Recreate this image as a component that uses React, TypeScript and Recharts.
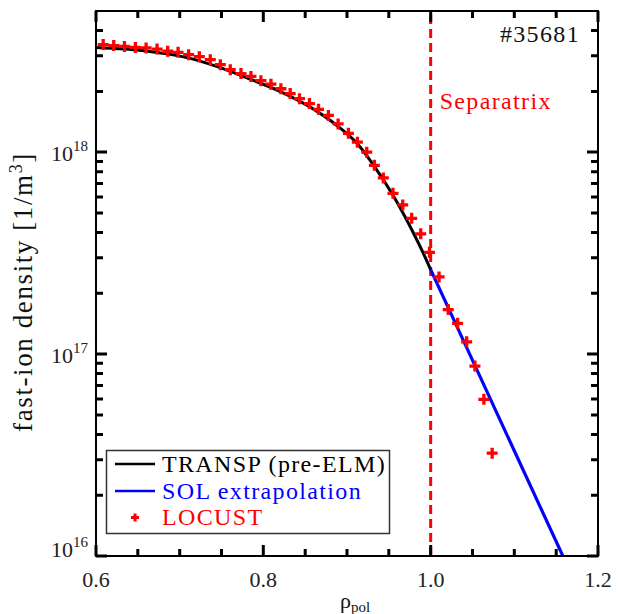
import React from 'react';
import { ComposedChart, Line, Scatter, XAxis, YAxis, ReferenceLine, ReferenceArea } from 'recharts';

const WIDTH = 618;
const HEIGHT = 614;
const FONT = '"Liberation Serif", "Times New Roman", serif';

// chart frame layout
const MARGIN = { top: 11, right: 20, bottom: 0, left: 0 };
const X_AXIS_HEIGHT = 58;
const Y_AXIS_WIDTH = 96;
const PLOT_LEFT = MARGIN.left + Y_AXIS_WIDTH;
const PLOT_TOP = MARGIN.top;
const PLOT_H = HEIGHT - MARGIN.top - MARGIN.bottom - X_AXIS_HEIGHT;
const PLOT_W = WIDTH - MARGIN.left - MARGIN.right - Y_AXIS_WIDTH;

// TRANSP fast-ion density profile (pre-ELM)
const transpRho = [0.6, 0.66, 0.71, 0.7486, 0.7852, 0.821, 0.8551, 0.8894, 0.9124, 0.9327, 0.955, 0.9695, 0.9803, 0.991, 1.0];
const transpDensity = [
  3.3e18, 3.17e18, 2.93e18, 2.62e18, 2.29e18, 1.99e18, 1.68e18, 1.34e18, 1.1e18, 8.5e17, 6.11e17, 4.77e17, 3.91e17,
  3.17e17, 2.62e17,
];

// exponential extrapolation into the scrape-off layer
const solRho = [1.0, 1.158];
const solDensity = [2.62e17, 1.0e16];

// LOCUST fast-ion density
const locustRho = [
  0.6086, 0.6212, 0.634, 0.6471, 0.6599, 0.673, 0.6857, 0.6981, 0.7107, 0.7235, 0.7366, 0.7486, 0.7605, 0.7733,
  0.7852, 0.7971, 0.8091, 0.821, 0.8321, 0.8432, 0.8551, 0.8659, 0.8778, 0.8894, 0.9017, 0.9124, 0.9236, 0.9327,
  0.9434, 0.955, 0.9666, 0.9773, 0.9881, 0.9986, 1.01, 1.021, 1.0322, 1.043, 1.0529, 1.0636, 1.0735,
];
const locustDensity = [
  3.41e18, 3.37e18, 3.34e18, 3.3e18, 3.28e18, 3.24e18, 3.16e18, 3.12e18, 3.04e18, 2.97e18, 2.87e18, 2.71e18, 2.56e18,
  2.45e18, 2.37e18, 2.26e18, 2.17e18, 2.06e18, 1.95e18, 1.84e18, 1.74e18, 1.63e18, 1.52e18, 1.38e18, 1.24e18, 1.12e18,
  1.0e18, 8.6e17, 7.45e17, 6.25e17, 5.48e17, 4.7e17, 3.94e17, 3.19e17, 2.41e17, 1.66e17, 1.42e17, 1.15e17, 8.72e16,
  5.97e16, 3.23e16,
];

const separatrixRho = 1.0;
const shotLabel = '#35681';

const xDomain = [0.6, 1.2];
const yDomain = [1e16, 5e18];
const xTicks = [0.6, 0.65, 0.7, 0.75, 0.8, 0.85, 0.9, 0.95, 1.0, 1.05, 1.1, 1.15, 1.2];
const yTicks = [
  1e16, 2e16, 3e16, 4e16, 5e16, 6e16, 7e16, 8e16, 9e16,
  1e17, 2e17, 3e17, 4e17, 5e17, 6e17, 7e17, 8e17, 9e17,
  1e18, 2e18, 3e18, 4e18,
];

const zip = (xs: number[], ys: number[]) => xs.map((rho, i) => ({ rho, density: ys[i] }));
const transpData = zip(transpRho, transpDensity);
const solData = zip(solRho, solDensity);
const locustData = zip(locustRho, locustDensity);

const isMajorX = (v: number) => Math.abs(v * 5 - Math.round(v * 5)) < 1e-6;
const isMajorY = (v: number) => {
  const l = Math.log10(v);
  return Math.abs(l - Math.round(l)) < 1e-6;
};

// axis mapping matching the chart frame, used for the inward tick marks
const LOG_SPAN = Math.log10(yDomain[1] / yDomain[0]);
const tickX = (v: number) => PLOT_LEFT + ((v - xDomain[0]) / (xDomain[1] - xDomain[0])) * PLOT_W;
const tickY = (v: number) => PLOT_TOP + (Math.log10(yDomain[1] / v) / LOG_SPAN) * PLOT_H;
const MAJOR = 11;
const MINOR = 7;
const TICK_STROKE = 3;

const XTickLabel = (props: any) => {
  const { x, y, payload } = props;
  if (!isMajorX(payload.value)) return <g />;
  return (
    <text x={x} y={y + 31} textAnchor="middle" fontFamily={FONT} fontSize={22} fill="#222" stroke="none">
      {payload.value.toFixed(1)}
    </text>
  );
};

const YTickLabel = (props: any) => {
  const { x, y, payload } = props;
  if (!isMajorY(payload.value)) return <g />;
  const exp = Math.round(Math.log10(payload.value));
  const base = exp === 16 ? y + 1 : y + 9;
  return (
    <text x={x - 8} y={base} textAnchor="end" fontFamily={FONT} fontSize={22} fill="#222" stroke="none">
      <tspan>10</tspan>
      <tspan dy={-10} fontSize={15}>{exp}</tspan>
    </text>
  );
};

const Plus = (props: any) => {
  const { cx, cy } = props;
  if (cx == null || cy == null) return null;
  const r = 5.5;
  return (
    <path d={`M${cx - r},${cy}H${cx + r}M${cx},${cy - r}V${cy + r}`} stroke="#ff0000" strokeWidth={3.3} fill="none" />
  );
};

const SeparatrixLabel = (props: any) => {
  const { viewBox } = props;
  return (
    <text x={viewBox.x + 9} y={viewBox.y + 98} fontFamily={FONT} fontSize={24} letterSpacing={1.35} fill="#ff0000">
      Separatrix
    </text>
  );
};

const axisLine = { stroke: '#000', strokeWidth: 2 };

function tickPath(): string {
  const bottom = PLOT_TOP + PLOT_H;
  const right = PLOT_LEFT + PLOT_W;
  let d = '';
  xTicks.forEach((v) => {
    const x = tickX(v).toFixed(1);
    const len = isMajorX(v) ? MAJOR : MINOR;
    d += `M${x},${bottom}v${-len}M${x},${PLOT_TOP}v${len}`;
  });
  yTicks.forEach((v) => {
    const y = tickY(v).toFixed(1);
    const len = isMajorY(v) ? MAJOR : MINOR;
    d += `M${PLOT_LEFT},${y}h${len}M${right},${y}h${-len}`;
  });
  return d;
}

export default function App() {
  return (
    <div style={{ position: 'absolute', left: 0, top: 0, width: WIDTH, height: HEIGHT, background: '#fff' }}>
      <ComposedChart width={WIDTH} height={HEIGHT} margin={MARGIN}>
        <XAxis
          dataKey="rho"
          type="number"
          domain={xDomain}
          ticks={xTicks}
          interval={0}
          allowDataOverflow
          height={X_AXIS_HEIGHT}
          tickSize={0}
          tickMargin={0}
          tickLine={false}
          axisLine={axisLine}
          tick={<XTickLabel />}
        />
        <YAxis
          dataKey="density"
          type="number"
          scale="log"
          domain={yDomain}
          ticks={yTicks}
          interval={0}
          allowDataOverflow
          width={Y_AXIS_WIDTH}
          tickSize={0}
          tickMargin={0}
          tickLine={false}
          axisLine={axisLine}
          tick={<YTickLabel />}
        />
        <ReferenceArea
          x1={xDomain[0]}
          x2={xDomain[1]}
          y1={yDomain[0]}
          y2={yDomain[1]}
          fill="none"
          fillOpacity={0}
          stroke="#000"
          strokeWidth={2}
          strokeOpacity={1}
        />
        <ReferenceLine
          x={separatrixRho}
          stroke="#ff0000"
          strokeWidth={3}
          strokeDasharray="9 5"
          label={<SeparatrixLabel />}
        />
        <Scatter data={locustData} dataKey="density" shape={<Plus />} isAnimationActive={false} />
        <Line
          data={transpData}
          dataKey="density"
          type="monotone"
          stroke="#000"
          strokeWidth={3}
          dot={false}
          isAnimationActive={false}
        />
        <Line
          data={solData}
          dataKey="density"
          type="linear"
          stroke="#0000ff"
          strokeWidth={3.2}
          dot={false}
          isAnimationActive={false}
        />
      </ComposedChart>
      <svg
        width={WIDTH}
        height={HEIGHT}
        style={{ position: 'absolute', left: 0, top: 0, pointerEvents: 'none' }}
        fontFamily={FONT}
      >
        <text x={580} y={42} textAnchor="end" fontSize={24} letterSpacing={1.35} fill="#111">
          {shotLabel}
        </text>
        <text
          transform="translate(32,292) rotate(-90)"
          textAnchor="middle"
          fontSize={27}
          letterSpacing={1.6}
          fill="#111"
        >
          fast-ion density [1/m<tspan dy={-10} fontSize={18}>3</tspan>
          <tspan dy={10}>]</tspan>
        </text>
        <text x={340} y={608} fontSize={22} fill="#111">
          ρ<tspan dy={4} fontSize={15}>pol</tspan>
        </text>
        <rect x={106.5} y={450.5} width={283} height={83} fill="#fff" stroke="#333" strokeWidth={1.5} />
        <line x1={115} x2={155} y1={464} y2={464} stroke="#000" strokeWidth={2.6} />
        <text x={162} y={472} fontSize={24} letterSpacing={1.35} fill="#000">
          TRANSP (pre-ELM)
        </text>
        <line x1={115} x2={155} y1={491} y2={491} stroke="#0000ff" strokeWidth={2.6} />
        <text x={162} y={498.5} fontSize={24} letterSpacing={1.35} fill="#0000ff">
          SOL extrapolation
        </text>
        <path d="M131,517.5H139M135,513.5V521.5" stroke="#ff0000" strokeWidth={3} />
        <text x={162} y={525} fontSize={24} letterSpacing={1.35} fill="#ff0000">
          LOCUST
        </text>
        <path d={tickPath()} stroke="#000000" strokeWidth={TICK_STROKE} fill="none" />
      </svg>
    </div>
  );
}
